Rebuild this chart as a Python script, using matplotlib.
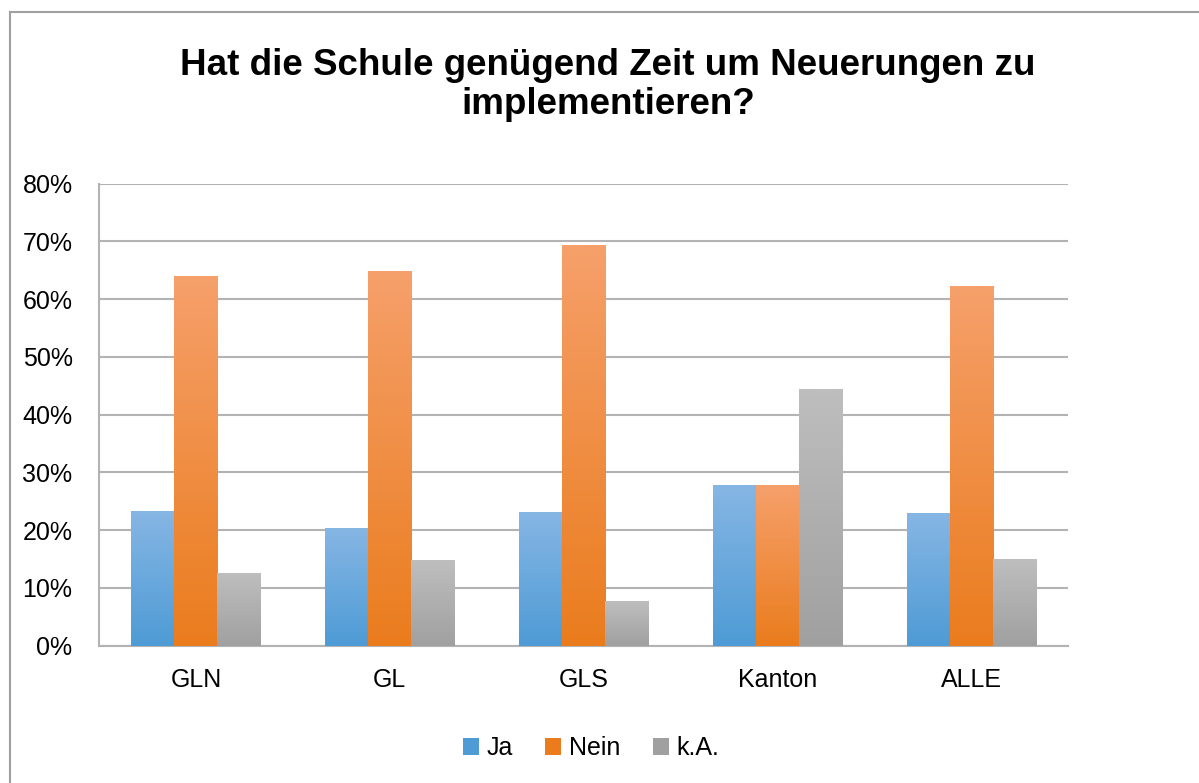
import matplotlib
matplotlib.use("Agg")
import matplotlib.pyplot as plt
import numpy as np
from matplotlib.patches import Patch
from matplotlib.colors import LinearSegmentedColormap
from matplotlib.lines import Line2D

plt.rcParams['font.family'] = ['Liberation Sans', 'DejaVu Sans']

categories = ["GLN", "GL", "GLS", "Kanton", "ALLE"]
series = ["Ja", "Nein", "k.A."]
ja = [23.3, 20.3, 23.1, 27.8, 22.9]
nein = [64.1, 64.8, 69.3, 27.8, 62.2]
ka = [12.6, 14.8, 7.7, 44.4, 15.0]
yticks = [0, 10, 20, 30, 40, 50, 60, 70, 80]

# (top colour, bottom colour) for the vertical gradient
grads = [("#86b6e4", "#4e9bd5"), ("#f6a06b", "#ea7c1d"), ("#bebebe", "#a0a0a0")]

fig = plt.figure(figsize=(11.99, 7.83), dpi=100)
ax = fig.add_axes([99 / 1199, 1 - 645.7 / 783, (1068 - 99) / 1199, (645.7 - 183.7) / 783])

x = np.arange(len(categories))
w = 1 / 4.5
gradient = np.linspace(0, 1, 256).reshape(-1, 1)
for k, vals in enumerate([ja, nein, ka]):
    bars = ax.bar(x + (k - 1) * w, vals, w, color=grads[k][1], linewidth=0, zorder=2)
    cmap = LinearSegmentedColormap.from_list("g%d" % k, [grads[k][1], grads[k][0]])
    for b in bars:
        x0, y0 = b.get_x(), b.get_y()
        im = ax.imshow(gradient, cmap=cmap, aspect="auto", origin="lower",
                       extent=[x0, x0 + b.get_width(), y0, y0 + b.get_height()], zorder=3)
        im.set_clip_path(b)

ax.set_xlim(-0.5, len(categories) - 0.5)
ax.set_ylim(0, 80)
ax.set_yticks(yticks)
ax.set_yticklabels(["%d%%" % t for t in yticks])
ax.set_xticks(x)
ax.set_xticklabels(categories)
ax.tick_params(axis="both", length=0, labelsize=18)
ax.tick_params(axis="y", pad=19)
ax.tick_params(axis="x", pad=16)
ax.yaxis.grid(True, color="#b3b3b3", linewidth=1.5, zorder=0)
ax.set_axisbelow(True)
for s in ["top", "right"]:
    ax.spines[s].set_visible(False)
for s in ["left", "bottom"]:
    ax.spines[s].set_color("#b3b3b3")
    ax.spines[s].set_linewidth(1.5)

fig.text(608 / 1199, 1 - 85 / 783, "Hat die Schule genügend Zeit um Neuerungen zu\nimplementieren?",
         ha="center", va="center", fontsize=26.5, fontweight="bold", linespacing=1.15)

handles = [Patch(facecolor=grads[k][1], edgecolor="none") for k in range(3)]
fig.legend(handles, series, loc="center", bbox_to_anchor=(591 / 1199, 1 - 748 / 783),
           ncol=3, frameon=False, fontsize=18, handlelength=0.65, handleheight=0.65,
           handletextpad=0.3, columnspacing=1.3)

# chart area border (top and left edges visible)
fig.add_artist(Line2D([10 / 1199, 1], [1 - 12 / 783, 1 - 12 / 783], color="#a0a0a0", linewidth=1.5))
fig.add_artist(Line2D([10 / 1199, 10 / 1199], [0, 1 - 12 / 783], color="#a0a0a0", linewidth=1.5))

fig.savefig("out.png", dpi=100)
